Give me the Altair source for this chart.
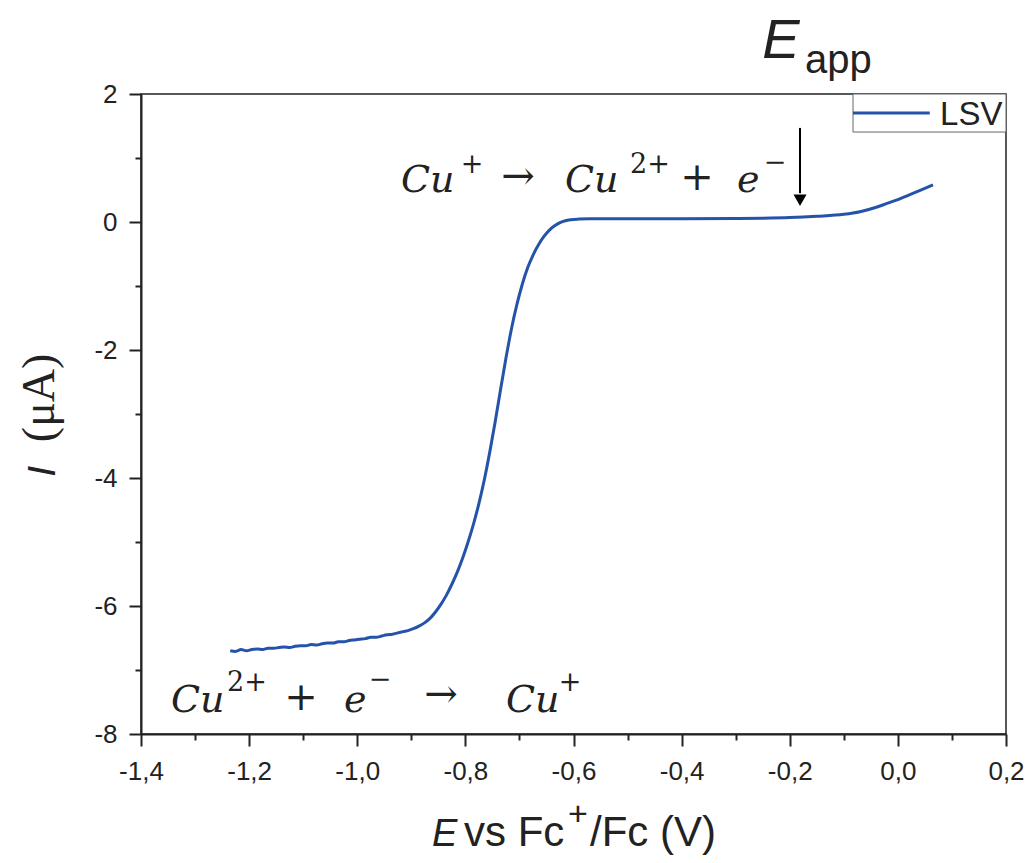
import altair as alt
import pandas as pd

# ---- data ----
E_V = [-1.235, -1.225, -1.215, -1.205, -1.195, -1.185, -1.175, -1.165, -1.155, -1.145,
       -1.135, -1.125, -1.115, -1.105, -1.095, -1.085, -1.075, -1.065, -1.055, -1.045,
       -1.035, -1.025, -1.015, -1.005, -0.995, -0.985, -0.975, -0.965, -0.955, -0.945,
       -0.935, -0.925, -0.915, -0.905, -0.895, -0.885, -0.875, -0.865, -0.855, -0.845,
       -0.835, -0.825, -0.815, -0.805, -0.795, -0.785, -0.775, -0.765, -0.755, -0.745,
       -0.735, -0.725, -0.715, -0.705, -0.695, -0.685, -0.675, -0.665, -0.655, -0.645,
       -0.635, -0.625, -0.615, -0.605, -0.59, -0.57, -0.50, -0.40, -0.30, -0.25,
       -0.20, -0.15, -0.10, -0.07, -0.04, -0.02, 0.00, 0.02, 0.04, 0.065]
I_uA = [-6.70, -6.71, -6.68, -6.70, -6.68, -6.67, -6.68, -6.66, -6.66, -6.65,
        -6.64, -6.65, -6.63, -6.62, -6.62, -6.60, -6.61, -6.59, -6.58, -6.58,
        -6.56, -6.56, -6.54, -6.53, -6.52, -6.51, -6.49, -6.49, -6.47, -6.45,
        -6.44, -6.42, -6.40, -6.38, -6.35, -6.31, -6.26, -6.19, -6.09, -5.97,
        -5.83, -5.66, -5.47, -5.25, -5.00, -4.72, -4.40, -4.03, -3.60, -3.13,
        -2.62, -2.13, -1.68, -1.30, -0.98, -0.72, -0.52, -0.36, -0.23, -0.13,
        -0.06, -0.01, 0.02, 0.035, 0.045, 0.05, 0.05, 0.05, 0.055, 0.06,
        0.07, 0.09, 0.12, 0.16, 0.23, 0.29, 0.35, 0.42, 0.49, 0.58]
SERIES = "LSV"

X_TICKS = [round(-1.4 + 0.1 * i, 1) for i in range(17)]
Y_TICKS = list(range(-8, 3))

# arrow (data coordinates)
ARROW_E = -0.181
ARROW_TOP = 1.47
ARROW_END = 0.45
ARROW_HEAD = 0.34

# legend box (data coordinates)
LEG_E = [-0.083, 0.2]
LEG_I = [2.0, 1.406]
LEG_LINE_E = [-0.083, 0.059]
LEG_LINE_I = 1.703
LEG_TEXT = (0.078, 1.516)

# reaction annotations, split into pieces (data coordinates)
ITALIC_T = ["Cu", "Cu", "e", "Cu", "e", "Cu"]
ITALIC_E = [-0.9191, -0.6157, -0.2976, -1.3445, -1.0245, -0.7249]
ITALIC_I = [0.469, 0.469, 0.469, -7.656, -7.656, -7.656]

SUP_T = ["+", "2+", "\u2212", "2+", "\u2212", "+"]
SUP_E = [-0.7877, -0.4585, -0.2273, -1.2039, -0.9579, -0.6064]
SUP_I = [0.891, 0.891, 0.922, -7.203, -7.156, -7.203]

OP_T = ["\u2192", "+", "+", "\u2192"]
OP_E = [-0.7027, -0.3716, -1.1040, -0.8451]
OP_I = [0.703, 0.6875, -7.4375, -7.391]

LINE_COLOR = "#2453A9"
INK = "#222222"

curve = pd.DataFrame({"E": E_V, "I": I_uA, "series": SERIES})

x_scale = alt.Scale(domain=[-1.4, 0.2], nice=False, zero=False)
y_scale = alt.Scale(domain=[-8, 2], nice=False, zero=False)

x_major = "abs(round(datum.value*10)) % 2 == 0"
y_major = "abs(datum.value) % 2 == 0"

x_axis = alt.Axis(
    values=X_TICKS, title=None, grid=False,
    labelExpr=("abs(round(datum.value*10)) % 2 == 0 ? "
               "((datum.value < -0.001 ? '-' : '') + replace(format(abs(datum.value), '.1f'), '.', ',')) : ''"),
    tickSize={"condition": {"test": x_major, "value": 12}, "value": 6},
    tickWidth=2, tickColor=INK, domainColor=INK, domainWidth=2,
    labelFont="Liberation Sans", labelFontSize=26, labelColor=INK,
    labelPadding=12, labelFlush=False, labelOverlap=False,
)
y_axis = alt.Axis(
    values=Y_TICKS, title=None, grid=False,
    labelExpr=("abs(datum.value) % 2 == 0 ? "
               "((datum.value < 0 ? '-' : '') + format(abs(datum.value), 'd')) : ''"),
    tickSize={"condition": {"test": y_major, "value": 12}, "value": 6},
    tickWidth=2, tickColor=INK, domainColor=INK, domainWidth=2,
    labelFont="Liberation Sans", labelFontSize=26, labelColor=INK,
    labelPadding=12, labelFlush=False, labelOverlap=False,
)

line = alt.Chart(curve).mark_line(strokeWidth=3, interpolate="monotone",
                                  color=LINE_COLOR).encode(
    x=alt.X("E:Q", scale=x_scale, axis=x_axis),
    y=alt.Y("I:Q", scale=y_scale, axis=y_axis),
    detail="series:N",
)

# arrow
arrow_df = pd.DataFrame({"E": [ARROW_E], "I": [ARROW_TOP], "I2": [ARROW_END]})
arrow_line = alt.Chart(arrow_df).mark_rule(color="black", strokeWidth=2).encode(
    x=alt.X("E:Q", scale=x_scale), y=alt.Y("I:Q", scale=y_scale), y2="I2:Q")
head_df = pd.DataFrame({"E": [ARROW_E], "I": [ARROW_HEAD]})
arrow_head = alt.Chart(head_df).mark_point(shape="triangle-down", filled=True, size=170,
                                           color="black", opacity=1).encode(
    x=alt.X("E:Q", scale=x_scale), y=alt.Y("I:Q", scale=y_scale))

# legend (drawn)
leg_box = alt.Chart(pd.DataFrame({"E": [LEG_E[0]], "E2": [LEG_E[1]],
                                  "I": [LEG_I[0]], "I2": [LEG_I[1]]})).mark_rect(
    fill="white", stroke="#666666", strokeWidth=1).encode(
    x=alt.X("E:Q", scale=x_scale), x2="E2:Q",
    y=alt.Y("I:Q", scale=y_scale), y2="I2:Q")
leg_line = alt.Chart(pd.DataFrame({"E": [LEG_LINE_E[0]], "E2": [LEG_LINE_E[1]],
                                   "I": [LEG_LINE_I]})).mark_rule(
    color=LINE_COLOR, strokeWidth=3).encode(
    x=alt.X("E:Q", scale=x_scale), x2="E2:Q", y=alt.Y("I:Q", scale=y_scale))


def text_layer(df, **kw):
    return alt.Chart(df).mark_text(**kw).encode(
        x=alt.X("E:Q", scale=x_scale), y=alt.Y("I:Q", scale=y_scale), text="t:N")


leg_text = text_layer(pd.DataFrame({"E": [LEG_TEXT[0]], "I": [LEG_TEXT[1]], "t": [SERIES]}),
                      font="Liberation Sans", fontSize=33, align="left",
                      baseline="alphabetic", color=INK)

italic_txt = text_layer(pd.DataFrame({"E": ITALIC_E, "I": ITALIC_I, "t": ITALIC_T}),
                        font="DejaVu Serif", fontStyle="italic", fontSize=38,
                        align="left", baseline="alphabetic", color=INK)
sup_txt = text_layer(pd.DataFrame({"E": SUP_E, "I": SUP_I, "t": SUP_T}),
                     font="DejaVu Serif", fontSize=27,
                     align="center", baseline="middle", color=INK)
op_txt = text_layer(pd.DataFrame({"E": OP_E, "I": OP_I, "t": OP_T}),
                    font="DejaVu Serif", fontSize=40,
                    align="center", baseline="middle", color=INK)

# E_app label
eapp_E = text_layer(pd.DataFrame({"E": [-0.251], "I": [2.563], "t": ["E"]}),
                    font="Liberation Sans", fontStyle="italic", fontSize=56,
                    align="left", baseline="alphabetic", color=INK)
eapp_sub = text_layer(pd.DataFrame({"E": [-0.172], "I": [2.328], "t": ["app"]}),
                      font="Liberation Sans", fontSize=40,
                      align="left", baseline="alphabetic", color=INK)

# x-axis title pieces
XT_I = -9.75
xt_it = text_layer(pd.DataFrame({"E": [-0.8617], "I": [XT_I], "t": ["E"]}),
                   font="Liberation Sans", fontStyle="italic", fontSize=38,
                   align="left", baseline="alphabetic", color=INK)
xt_mid = text_layer(pd.DataFrame({"E": [-0.8025], "I": [XT_I], "t": ["vs Fc"]}),
                    font="Liberation Sans", fontSize=42,
                    align="left", baseline="alphabetic", color=INK)
xt_sup = text_layer(pd.DataFrame({"E": [-0.592], "I": [-9.266], "t": ["+"]}),
                    font="Liberation Sans", fontSize=34,
                    align="center", baseline="middle", color=INK)
xt_end = text_layer(pd.DataFrame({"E": [-0.5695], "I": [XT_I], "t": ["/Fc (V)"]}),
                    font="Liberation Sans", fontSize=42,
                    align="left", baseline="alphabetic", color=INK)

# y-axis title pieces (rotated)
yt_it = text_layer(pd.DataFrame({"E": [-1.559], "I": [-3.98], "t": ["I"]}),
                   font="Liberation Sans", fontStyle="italic", fontSize=39, angle=270,
                   align="left", baseline="alphabetic", color=INK)
yt_unit = text_layer(pd.DataFrame({"E": [-1.561], "I": [-3.44], "t": ["(\u03bcA)"]}),
                     font="Liberation Serif", fontSize=46, angle=270,
                     align="left", baseline="alphabetic", color=INK)

chart = alt.layer(
    line, arrow_line, arrow_head, leg_box, leg_line, leg_text,
    italic_txt, sup_txt, op_txt, eapp_E, eapp_sub,
    xt_it, xt_mid, xt_sup, xt_end, yt_it, yt_unit,
).properties(
    width=865, height=640,
    padding={"left": 133, "top": 86, "right": 22, "bottom": 121},
    autosize=alt.AutoSizeParams(type="none"),
    background="white",
).configure_view(stroke=INK, strokeWidth=1.5)

chart.save("out.html", embed_options={"renderer": "svg", "actions": False})
